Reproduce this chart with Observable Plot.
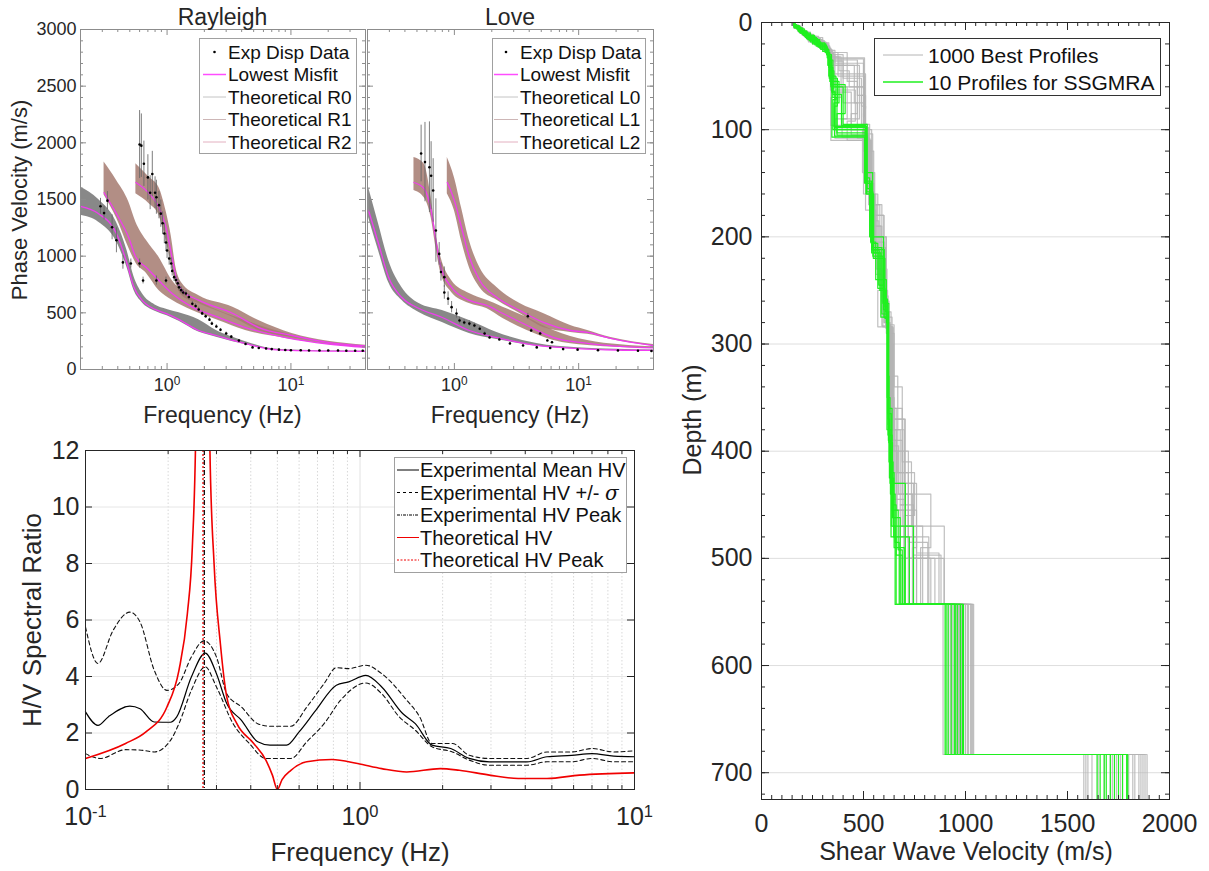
<!DOCTYPE html>
<html><head><meta charset="utf-8">
<script src="https://cdn.jsdelivr.net/npm/d3@7"></script>
<script src="https://cdn.jsdelivr.net/npm/@observablehq/plot@0.6"></script>
<style>
html,body{margin:0;padding:0;background:#fff;}
#root{position:relative;width:1209px;height:871px;overflow:hidden;background:#fff;}
#root svg{overflow:visible;}
</style></head><body><div id="root"></div>
<script>
// ---------------- DATA ----------------
// Rayleigh modes (frequency Hz, phase velocity m/s)
const rR0f    = [0.2,0.28,0.39,0.475,0.54,0.63,0.8,1.0,1.25,1.8,2.5,3.4,4.9,6.3,10,20,40];
const rR0best = [1440,1375,1200,935,725,610,530,490,440,344,300,256,212,185,168,162,160];
const rR0lo   = [1360,1300,1130,900,700,590,515,475,425,330,285,245,205,180,165,160,158];
const rR0hi   = [1610,1500,1300,1050,820,670,570,530,500,440,345,285,225,192,172,165,162];
const rR1f    = [0.31,0.39,0.49,0.56,0.68,0.86,1.1,1.6,2.6,4.3,9.1,20,40];
const rR1best = [1560,1375,1165,990,900,785,670,550,460,370,282,225,195];
const rR1lo   = [1540,1340,1075,940,850,697,610,520,432,344,274,220,190];
const rR1hi   = [1830,1670,1480,1300,1140,990,785,635,520,432,318,240,205];
const rR2f    = [0.56,0.72,0.86,0.98,1.08,1.18,1.32,1.81,3.4,5.5,10.2,20,40];
const rR2best = [1650,1550,1430,1255,1025,815,697,610,494,370,300,240,208];
const rR2lo   = [1550,1460,1360,1140,935,760,650,580,460,344,282,232,203];
const rR2hi   = [1815,1695,1606,1400,1180,900,760,650,550,432,318,250,215];
// Rayleigh experimental points [freq, velocity, error]
const rExp = [[0.29,1440,70],[0.31,1380,60],[0.33,1490,80],[0.36,1255,110],[0.39,1140,110],[0.44,945,60],[0.51,935,40],[0.60,935,40],[0.64,785,30],[0.82,785,40],[0.98,785,30],
 [0.60,1985,300],[0.62,1975,280],[0.65,1815,200],[0.70,1695,200],[0.73,1560,150],[0.76,1725,200],[0.80,1560,140],[0.82,1520,150],[0.86,1450,120],[0.89,1375,120],[0.92,1290,100],[0.95,1200,90],[0.98,1120,80],[1.0,1050,70],[1.04,980,60],[1.08,935,50],[1.1,870,45],[1.14,815,40],[1.18,790,35],[1.22,760,35],[1.25,725,30],[1.3,700,30],[1.35,680,25],[1.42,670,25],[1.5,640,25],[1.6,580,20],[1.7,560,20],[1.8,530,20],[1.92,495,18],[2.05,470,18],[2.2,440,15],[2.3,405,15],[2.5,380,15],[2.7,350,12],[3.0,318,12],[3.3,290,10],[3.8,255,10],[4.3,225,8],[4.9,195,8],[5.5,190,6],[6.3,185,6],[7,180,5],[8,175,5],[9,172,5],[10,170,5],[12,170,4],[14,168,4],[17,168,4],[20,167,4],[24,167,4],[28,166,4],[33,166,4],[38,166,4]];
// Love modes
const lL0f    = [0.204,0.245,0.296,0.378,0.52,0.80,1.32,2.2,4.6,9.8,20,40];
const lL0best = [1403,1112,812,635,538,459,344,282,212,185,172,168];
const lL0lo   = [1341,1050,768,610,503,415,318,265,206,180,168,165];
const lL0hi   = [1606,1288,962,724,582,520,432,326,230,192,178,172];
const lL1f    = [0.473,0.57,0.65,0.71,0.78,0.95,1.32,1.82,2.46,3.85,6.3,11.8,40];
const lL1best = [1650,1597,1403,1138,900,724,610,565,494,388,282,230,190];
const lL1lo   = [1580,1518,1341,1076,847,680,582,538,450,344,256,212,185];
const lL1hi   = [1870,1815,1518,1200,990,785,670,610,550,459,344,256,200];
const lL2f    = [0.877,1.0,1.14,1.32,1.6,2.2,3.37,5.2,8.6,11.8,18.2,40];
const lL2best = [1650,1490,1255,990,785,635,520,415,344,327,274,210];
const lL2lo   = [1550,1403,1138,900,724,610,494,370,327,310,265,205];
const lL2hi   = [1870,1695,1430,1138,900,724,582,494,388,344,282,220];
const lExp = [[0.54,1906,250],[0.58,1830,350],[0.63,1785,400],[0.65,1710,300],[0.675,1580,280],[0.71,1226,280],[0.755,1020,100],[0.78,860,80],[0.83,815,90],[0.83,680,60],[0.89,625,60],[0.95,550,50],[1.04,494,40],[1.1,432,30],[1.2,415,25],[1.32,405,25],[1.45,388,20],[1.6,360,20],[1.75,318,15],[1.92,282,12],[2.3,265,10],[2.8,230,8],[3.57,212,8],[4.6,195,6],[5.9,190,5],[7.5,180,5],[9.8,175,5],[14.3,170,4],[20.7,168,4],[30,166,4],[38.5,163,4],
 [3.9,470,25],[4.15,344,15],[4.9,318,10],[5.6,256,8],[6.1,240,8]];

// H/V spectral ratio
const hvMeanF = [0.1,0.111,0.121,0.145,0.158,0.178,0.204,0.215,0.243,0.273,0.30,0.327,0.37,0.424,0.47,0.54,0.6,0.69,0.82,0.91,1.05,1.2,1.43,1.59,1.83,2.14,2.5,2.96,4.06,4.8,5.9,7.0,8.4,10];
const hvMean  = [2.75,2.27,2.57,2.95,2.86,2.39,2.38,2.57,3.98,4.83,4.1,3.04,2.45,1.69,1.57,1.57,2.04,2.8,3.69,3.81,4.04,3.63,2.69,2.33,1.57,1.45,1.1,0.98,0.98,1.16,1.21,1.27,1.18,1.16];
const hvUpF = [0.1,0.111,0.126,0.145,0.158,0.178,0.198,0.219,0.243,0.27,0.30,0.327,0.37,0.424,0.47,0.56,0.64,0.74,0.82,0.91,1.05,1.2,1.48,1.65,1.83,2.17,2.5,2.96,4.06,4.8,5.9,7.0,8.4,10];
const hvUp  = [5.75,4.46,5.63,6.28,5.93,4.22,3.51,3.75,4.69,5.26,4.69,3.39,2.92,2.33,2.24,2.24,2.92,3.75,4.31,4.28,4.40,4.1,3.16,2.57,1.63,1.63,1.21,1.1,1.1,1.33,1.33,1.45,1.33,1.37];
const hvLoF = [0.1,0.113,0.14,0.16,0.178,0.204,0.219,0.243,0.273,0.30,0.345,0.395,0.454,0.56,0.64,0.74,0.85,1.05,1.2,1.39,1.59,1.83,2.17,2.5,2.96,4.06,4.8,5.9,7.0,8.4,10];
const hvLo  = [1.27,1.1,1.41,1.39,1.33,1.74,2.33,3.51,4.34,3.63,2.33,1.63,1.1,1.1,1.69,2.33,3.16,3.77,3.39,2.57,2.1,1.51,1.33,1.04,0.86,0.86,0.98,0.98,1.1,0.98,0.98];
const hvThF = [0.1,0.14,0.166,0.198,0.219,0.235,0.245,0.252,0.26,0.268,0.276,0.284,0.294,0.31,0.327,0.356,0.41,0.454,0.48,0.50,0.52,0.56,0.64,0.79,0.98,1.2,1.48,1.96,2.3,2.96,3.77,4.8,6.3,10];
const hvTh  = [1.1,1.63,2.04,2.92,4.22,6.22,8.58,12.5,25,60,25,12,8,5.16,3.28,2.33,1.63,1.04,0.5,0,0.35,0.68,0.98,1.06,0.92,0.74,0.62,0.74,0.68,0.51,0.39,0.39,0.51,0.59];
const hvExpPeak = 0.271;
const hvThPeak = 0.268;

// Vs profiles: each is a list of [layer bottom depth (m), Vs (m/s)]
const greenProfiles = [
 [[4,160],[9,185],[14,215],[20,250],[27,300],[40,325],[65,345],[100,360],[150,510],[215,540],[245,575],[275,600],[380,615],[480,635],[543,660],[683,915],[725,1680]],
 [[3,158],[8,180],[15,220],[22,275],[30,320],[55,335],[75,380],[97,355],[140,515],[210,545],[272,590],[370,620],[420,628],[490,650],[543,700],[683,945],[725,1750]],
 [[5,165],[10,195],[18,240],[25,290],[35,330],[70,350],[105,370],[160,512],[220,548],[265,605],[330,618],[410,625],[470,645],[543,745],[683,905],[725,1645]],
 [[3,160],[7,178],[12,205],[20,260],[28,315],[45,335],[62,355],[107,345],[150,505],[205,535],[240,560],[280,612],[360,622],[450,640],[497,660],[543,690],[683,990],[725,1795]],
 [[4,162],[10,190],[16,228],[24,285],[32,325],[60,340],[95,400],[155,518],[213,542],[250,580],[270,608],[390,622],[440,632],[485,655],[543,675],[683,960],[725,1710]],
 [[2,158],[6,172],[12,210],[19,255],[26,310],[50,330],[72,365],[100,350],[145,508],[200,530],[268,598],[350,616],[430,630],[543,705],[683,930],[725,1730]],
 [[5,160],[11,200],[17,235],[23,280],[33,322],[58,340],[85,410],[103,370],[160,515],[215,550],[275,585],[385,620],[455,640],[492,670],[543,690],[683,975],[725,1770]],
 [[3,159],[8,185],[14,222],[21,270],[29,318],[42,330],[67,350],[96,392],[148,510],[212,540],[258,602],[365,618],[470,636],[543,655],[683,900],[725,1660]],
 [[4,161],[9,188],[15,225],[22,268],[30,320],[64,343],[98,360],[150,512],[206,538],[248,570],[276,605],[375,621],[425,627],[480,648],[543,725],[683,950],[725,1690]],
 [[3,160],[8,182],[13,212],[21,262],[28,312],[52,332],[78,372],[106,358],[158,516],[218,546],[262,595],[392,624],[462,642],[543,680],[683,985],[725,1790]]
];
const grayProfiles = [
 [[4,160],[10,190],[16,225],[23,275],[30,330],[60,360],[95,505],[150,520],[200,545],[280,610],[380,630],[430,660],[480,700],[543,760],[683,1000],[725,1850]],
 [[3,160],[8,180],[14,215],[25,300],[32,340],[70,390],[110,340],[160,500],[230,560],[284,595],[360,640],[440,690],[500,740],[543,830],[683,1040],[725,1890]],
 [[5,163],[12,205],[20,250],[28,325],[55,420],[85,470],[105,440],[170,525],[240,580],[290,612],[400,650],[470,720],[543,896],[683,890],[725,1580]],
 [[4,158],[9,185],[17,240],[24,290],[34,335],[62,500],[100,505],[180,540],[260,600],[330,625],[420,668],[460,750],[543,700],[683,935],[725,1620]],
 [[3,159],[7,176],[13,208],[22,280],[30,322],[48,345],[80,510],[120,500],[200,550],[270,612],[350,635],[440,640],[490,830],[543,780],[683,1010],[725,1860]],
 [[2,160],[6,170],[12,200],[18,245],[27,305],[40,332],[90,480],[108,360],[190,530],[250,585],[284,570],[380,645],[450,700],[500,680],[543,760],[683,965],[725,1800]],
 [[5,160],[10,195],[15,235],[22,285],[30,335],[65,345],[100,440],[140,495],[220,555],[280,600],[370,628],[430,700],[543,745],[683,915],[725,1710]],
 [[3,161],[9,190],[18,230],[26,300],[36,340],[75,400],[105,500],[150,520],[210,540],[275,605],[390,640],[480,660],[543,820],[683,1030],[725,1870]],
 [[4,160],[11,200],[19,255],[28,330],[50,375],[68,505],[95,490],[160,530],[240,570],[282,612],[340,650],[410,690],[470,735],[543,680],[683,945],[725,1760]],
 [[3,160],[8,178],[14,218],[20,265],[29,318],[58,355],[96,340],[175,510],[235,560],[283,590],[400,632],[455,665],[495,760],[543,870],[683,990],[725,1650]],
 [[4,162],[9,186],[15,222],[23,280],[31,328],[63,338],[92,460],[110,420],[185,535],[245,575],[284,610],[360,628],[445,650],[543,700],[683,925],[725,1600]],
 [[5,158],[10,192],[16,230],[24,295],[33,340],[85,505],[104,500],[170,545],[255,590],[300,620],[420,645],[500,720],[543,895],[683,1025],[725,1830]],
 [[3,160],[8,185],[15,225],[24,290],[32,335],[45,380],[60,430],[100,500],[150,515],[210,550],[285,608],[380,635],[450,680],[497,745],[543,880],[683,1015],[725,1720]],
 [[4,161],[10,192],[18,240],[27,315],[40,350],[75,455],[108,470],[170,530],[230,565],[284,615],[370,640],[460,705],[543,720],[683,970],[725,1680]],
 [[2,159],[7,180],[13,215],[21,270],[30,330],[52,400],[78,490],[110,510],[180,535],[250,600],[282,618],[390,632],[470,690],[543,790],[683,1000],[725,1740]],
 [[5,162],[11,198],[19,245],[29,320],[60,350],[90,420],[107,395],[160,520],[215,555],[270,600],[350,625],[430,650],[490,760],[543,740],[683,955],[725,1820]],
 [[3,160],[9,186],[16,228],[25,300],[35,345],[68,470],[98,510],[155,525],[205,548],[280,603],[395,628],[440,672],[485,720],[543,815],[683,980],[725,1590]],
 [[4,159],[10,190],[17,235],[26,308],[38,360],[88,500],[110,505],[190,540],[260,590],[285,612],[360,645],[455,660],[500,700],[543,850],[683,1035],[725,1880]]
];

// ---------------- HELPERS ----------------
const ns = "http://www.w3.org/2000/svg";
const FONT = "'Liberation Sans', Arial, Helvetica, sans-serif";
const TXT = "#262626";
const root = document.getElementById("root");
const pow10 = d => "10^" + Math.round(Math.log10(d));

function place(svg, left, top) {
  svg.style.position = "absolute";
  svg.style.left = left + "px";
  svg.style.top = top + "px";
  svg.querySelectorAll("text").forEach(t => {
    const m = /^10\^(-?\d+)$/.exec(t.textContent);
    if (m) {
      t.textContent = "";
      const a = document.createElementNS(ns, "tspan"); a.textContent = "10";
      const b = document.createElementNS(ns, "tspan"); b.textContent = m[1];
      b.setAttribute("dy", "-0.5em"); b.setAttribute("font-size", "0.66em");
      t.append(a, b);
    }
  });
  root.appendChild(svg);
}
function label(html, x, y, size, rot = 0) {
  const d = document.createElement("div");
  d.innerHTML = html;
  d.style.cssText = `position:absolute;left:${x}px;top:${y}px;transform:translate(-50%,-50%) rotate(${rot}deg);font-size:${size}px;font-family:${FONT};color:${TXT};white-space:nowrap;line-height:1;`;
  root.appendChild(d);
}
function legend(x, y, w, h, border, font, rows) {
  let s = `<svg xmlns="${ns}" width="${w}" height="${h}" style="position:absolute;left:${x}px;top:${y}px;font-family:${FONT};">`;
  s += `<rect x="0.5" y="0.5" width="${w - 1}" height="${h - 1}" fill="#fff" stroke="${border}"/>`;
  for (const r of rows) {
    if (r.dot) s += `<circle cx="${(r.x0 + r.x1) / 2}" cy="${r.y}" r="1.3" fill="#000"/>`;
    else s += `<line x1="${r.x0}" x2="${r.x1}" y1="${r.y}" y2="${r.y}" stroke="${r.color}" stroke-width="${r.w || 1}" ${r.dash ? `stroke-dasharray="${r.dash}"` : ""}/>`;
    s += `<text x="${r.tx}" y="${r.y}" dy="0.36em" font-size="${font}" fill="#111">${r.text}</text>`;
  }
  s += `</svg>`;
  const wrap = document.createElement("div");
  wrap.innerHTML = s;
  root.appendChild(wrap.firstChild);
}
const idx = a => d3.range(a.length);

// ---------------- DISPERSION PANELS ----------------
const dispMinorX = [0.2,0.3,0.4,0.5,0.6,0.7,0.8,0.9,2,3,4,5,6,7,8,9,20,30,40];
const dispMajorX = [1, 10];
const dispMinorY = d3.range(0, 3001, 100);
const dispMajorY = d3.range(0, 3001, 500);
const BAND0 = "#737373", BAND12 = "#a57a70", PINK = "#f03cf0";

function dispPanel(opts) {
  const {left, width, mL, mR, modes, exp, showY} = opts;
  const FH = 340, FW = width - mL - mR;
  const fc = "#8c8c8c";
  const marks = [];
  for (const m of modes) {
    marks.push(Plot.areaY(idx(m.f), {x: i => m.f[i], y1: i => m.lo[i], y2: i => m.hi[i], fill: m.fill, fillOpacity: 0.85, curve: "monotone-x"}));
  }
  for (const m of modes) {
    marks.push(Plot.line(idx(m.f), {x: i => m.f[i], y: i => m.best[i], stroke: PINK, strokeWidth: 1.3, curve: "monotone-x"}));
  }
  marks.push(Plot.ruleX(exp, {x: d => d[0], y1: d => d[1] - d[2], y2: d => d[1] + d[2], stroke: "#666", strokeWidth: 1, strokeOpacity: 0.85}));
  marks.push(Plot.dot(exp, {x: d => d[0], y: d => d[1], r: 1.3, fill: "#000", stroke: "none"}));
  marks.push(Plot.tickX(dispMinorX, {x: d => d, insetTop: FH - 3, stroke: fc}));
  marks.push(Plot.tickX(dispMinorX, {x: d => d, insetBottom: FH - 3, stroke: fc}));
  marks.push(Plot.tickX(dispMajorX, {x: d => d, insetTop: FH - 6, stroke: fc}));
  marks.push(Plot.tickX(dispMajorX, {x: d => d, insetBottom: FH - 6, stroke: fc}));
  marks.push(Plot.tickY(dispMinorY, {y: d => d, insetRight: FW - 3, stroke: fc}));
  marks.push(Plot.tickY(dispMinorY, {y: d => d, insetLeft: FW - 3, stroke: fc}));
  marks.push(Plot.tickY(dispMajorY, {y: d => d, insetRight: FW - 6, stroke: fc}));
  marks.push(Plot.tickY(dispMajorY, {y: d => d, insetLeft: FW - 6, stroke: fc}));
  marks.push(Plot.frame({stroke: fc}));
  const svg = Plot.plot({
    width, height: 430, marginLeft: mL, marginRight: mR, marginTop: 29, marginBottom: 61,
    style: {fontFamily: FONT, fontSize: "18px", color: TXT, background: "transparent", overflow: "visible"},
    x: {type: "log", domain: [0.2, 40], ticks: dispMajorX, tickFormat: pow10, tickSize: 0, tickPadding: 9, label: null},
    y: showY ? {domain: [0, 3000], ticks: dispMajorY, tickFormat: "d", tickSize: 0, tickPadding: 4, label: null}
             : {domain: [0, 3000], axis: null},
    marks
  });
  place(svg, left, 0);
}

dispPanel({left: 0, width: 375, mL: 80, mR: 10, showY: true, exp: rExp, modes: [
  {f: rR0f, best: rR0best, lo: rR0lo, hi: rR0hi, fill: BAND0},
  {f: rR1f, best: rR1best, lo: rR1lo, hi: rR1hi, fill: BAND12},
  {f: rR2f, best: rR2best, lo: rR2lo, hi: rR2hi, fill: BAND12}]});
dispPanel({left: 365, width: 298, mL: 2, mR: 10, showY: false, exp: lExp, modes: [
  {f: lL0f, best: lL0best, lo: lL0lo, hi: lL0hi, fill: BAND0},
  {f: lL1f, best: lL1best, lo: lL1lo, hi: lL1hi, fill: BAND12},
  {f: lL2f, best: lL2best, lo: lL2lo, hi: lL2hi, fill: BAND12}]});

label("Rayleigh", 222.5, 17, 23);
label("Love", 510, 17, 23);
label("Frequency (Hz)", 222.5, 415, 23);
label("Frequency (Hz)", 510, 415, 23);
label("Phase Velocity (m/s)", 20, 200, 22, -90);

function dispLegend(x, w, sx0, sx1, tx, mode) {
  const ys = [14, 36.5, 59, 81.5, 104];
  legend(x, 38, w, 116, "#a0a0a0", 19, [
    {dot: true, x0: sx0, x1: sx1, y: ys[0], tx, text: "Exp Disp Data"},
    {color: "#ff4dff", w: 1.5, x0: sx0, x1: sx1, y: ys[1], tx, text: "Lowest Misfit"},
    {color: "#c4c4c4", x0: sx0, x1: sx1, y: ys[2], tx, text: `Theoretical ${mode}0`},
    {color: "#cdb6b6", x0: sx0, x1: sx1, y: ys[3], tx, text: `Theoretical ${mode}1`},
    {color: "#e3b0c0", x0: sx0, x1: sx1, y: ys[4], tx, text: `Theoretical ${mode}2`}
  ]);
}
dispLegend(199, 158, 4, 27, 29, "R");
dispLegend(492, 154, 2, 26, 28, "L");

// ---------------- H/V PANEL ----------------
{
  const FH = 339, W = 660, mL = 85, mR = 26, FW = W - mL - mR;
  const hvMinorX = [0.2,0.3,0.4,0.5,0.6,0.7,0.8,0.9,2,3,4,5,6,7,8,9];
  const hvMajorX = [0.1, 1, 10];
  const hvY = d3.range(0, 13, 2);
  const fc = "#262626";
  const svg = Plot.plot({
    width: W, height: 441, marginLeft: mL, marginRight: mR, marginTop: 20, marginBottom: 82,
    style: {fontFamily: FONT, fontSize: "25px", color: TXT, background: "transparent", overflow: "visible"},
    x: {type: "log", domain: [0.1, 10], ticks: hvMajorX, tickFormat: pow10, tickSize: 0, tickPadding: 18, label: null},
    y: {domain: [0, 12], ticks: hvY, tickFormat: "d", tickSize: 0, tickPadding: 6, label: null},
    marks: [
      Plot.ruleX(hvMinorX, {x: d => d, stroke: "#d8d8d8", strokeDasharray: "1.5,2"}),
      Plot.ruleX([1], {x: d => d, stroke: "#e2e2e2"}),
      Plot.ruleY(hvY.slice(1, -1), {y: d => d, stroke: "#e6e6e6"}),
      Plot.line(idx(hvUpF), {x: i => hvUpF[i], y: i => hvUp[i], stroke: "#111", strokeWidth: 1.1, strokeDasharray: "4,3", curve: "monotone-x"}),
      Plot.line(idx(hvLoF), {x: i => hvLoF[i], y: i => hvLo[i], stroke: "#111", strokeWidth: 1.1, strokeDasharray: "4,3", curve: "monotone-x"}),
      Plot.line(idx(hvMeanF), {x: i => hvMeanF[i], y: i => hvMean[i], stroke: "#000", strokeWidth: 1.2, curve: "monotone-x"}),
      Plot.line(idx(hvThF), {x: i => hvThF[i], y: i => hvTh[i], stroke: "#f00000", strokeWidth: 1.6, curve: "monotone-x", clip: true}),
      Plot.ruleX([hvThPeak], {x: d => d, stroke: "#f00000", strokeWidth: 1.3, strokeDasharray: "2,2"}),
      Plot.ruleX([hvExpPeak], {x: d => d, stroke: "#111", strokeWidth: 1.3, strokeDasharray: "5,2,1,2"}),
      Plot.tickX(hvMinorX, {x: d => d, insetTop: FH - 4, stroke: fc}),
      Plot.tickX(hvMinorX, {x: d => d, insetBottom: FH - 4, stroke: fc}),
      Plot.tickX(hvMajorX, {x: d => d, insetTop: FH - 7, stroke: fc}),
      Plot.tickX(hvMajorX, {x: d => d, insetBottom: FH - 7, stroke: fc}),
      Plot.tickY(hvY, {y: d => d, insetRight: FW - 7, stroke: fc}),
      Plot.tickY(hvY, {y: d => d, insetLeft: FW - 7, stroke: fc}),
      Plot.frame({stroke: fc})
    ]
  });
  place(svg, 0, 430);
  label("Frequency (Hz)", 360, 852, 26);
  label("H/V Spectral Ratio", 32, 620, 26, -90);
  const ys = [13, 35.5, 58, 80.5, 103];
  legend(394, 457, 233, 116, "#a0a0a0", 20, [
    {color: "#000", x0: 3, x1: 25, y: ys[0], tx: 26, text: "Experimental Mean HV"},
    {color: "#000", dash: "3,3", x0: 3, x1: 25, y: ys[1], tx: 26, text: "Experimental HV +/- <tspan font-family=\"'DejaVu Serif', serif\" font-style=\"italic\">σ</tspan>"},
    {color: "#000", dash: "3,1,1,1", x0: 3, x1: 25, y: ys[2], tx: 26, text: "Experimental HV Peak"},
    {color: "#f00000", x0: 3, x1: 25, y: ys[3], tx: 26, text: "Theoretical HV"},
    {color: "#f00000", dash: "2,1.5", x0: 3, x1: 25, y: ys[4], tx: 26, text: "Theoretical HV Peak"}
  ]);
}

// ---------------- VS PROFILE PANEL ----------------
{
  const W = 529, H = 871, mL = 81, mR = 40, mT = 22, mB = 72;
  const FH = H - mT - mB, FW = W - mL - mR;
  const fc = "#262626";
  const toSteps = (profiles, tag) => profiles.flatMap((p, k) => {
    let top = 0;
    return p.flatMap(([bot, vs]) => { const seg = [{id: tag + k, vs, d: top}, {id: tag + k, vs, d: bot}]; top = bot; return seg; });
  });
  const graySteps = toSteps(grayProfiles, "g");
  const greenSteps = toSteps(greenProfiles, "s");
  const yMinor = d3.range(0, 721, 20), yMajor = d3.range(0, 701, 100);
  const xMinor = d3.range(0, 2001, 50), xMajor = d3.range(0, 2001, 500);
  const svg = Plot.plot({
    width: W, height: H, marginLeft: mL, marginRight: mR, marginTop: mT, marginBottom: mB,
    style: {fontFamily: FONT, fontSize: "25px", color: TXT, background: "transparent", overflow: "visible"},
    x: {domain: [0, 2000], ticks: xMajor, tickFormat: "d", tickSize: 0, tickPadding: 15, label: null},
    y: {domain: [0, 725], reverse: true, ticks: yMajor, tickFormat: "d", tickSize: 0, tickPadding: 9, label: null},
    marks: [
      Plot.ruleY(yMajor.slice(1), {y: d => d, stroke: "#dedede"}),
      Plot.line(graySteps, {x: "vs", y: "d", z: "id", stroke: "#b4b4b4", strokeWidth: 1.2, strokeOpacity: 0.85}),
      Plot.line(greenSteps, {x: "vs", y: "d", z: "id", stroke: "#1ff01f", strokeWidth: 1.2}),
      Plot.tickY(yMinor, {y: d => d, insetRight: FW - 4, stroke: fc}),
      Plot.tickY(yMinor, {y: d => d, insetLeft: FW - 4, stroke: fc}),
      Plot.tickY(yMajor, {y: d => d, insetRight: FW - 8, stroke: fc}),
      Plot.tickY(yMajor, {y: d => d, insetLeft: FW - 8, stroke: fc}),
      Plot.tickX(xMinor, {x: d => d, insetTop: FH - 4, stroke: fc}),
      Plot.tickX(xMinor, {x: d => d, insetBottom: FH - 4, stroke: fc}),
      Plot.tickX(xMajor, {x: d => d, insetTop: FH - 8, stroke: fc}),
      Plot.tickX(xMajor, {x: d => d, insetBottom: FH - 8, stroke: fc}),
      Plot.frame({stroke: fc})
    ]
  });
  place(svg, 680, 0);
  label("Depth (m)", 692, 420, 25, -90);
  label("Shear Wave Velocity (m/s)", 966, 851, 25);
  legend(874, 38, 287, 58, "#333", 21, [
    {color: "#b4b4b4", x0: 9, x1: 49, y: 17, tx: 54, text: "1000 Best Profiles"},
    {color: "#1ff01f", w: 1.5, x0: 9, x1: 49, y: 44, tx: 54, text: "10 Profiles for SSGMRA"}
  ]);
}
</script></body></html>
